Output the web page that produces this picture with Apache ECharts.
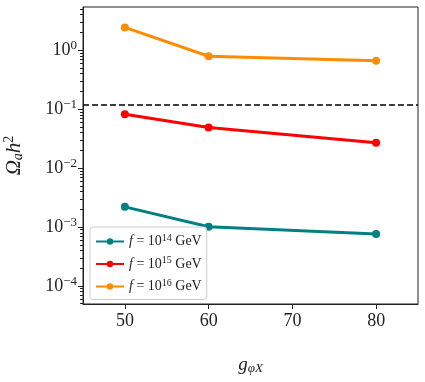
<!DOCTYPE html>
<html>
<head>
<meta charset="utf-8">
<script src="https://cdn.jsdelivr.net/npm/echarts@6/dist/echarts.min.js"></script>
<style>
  html, body { margin: 0; padding: 0; background: #fff; }
  #chart { width: 425px; height: 382px; }
</style>
</head>
<body>
<div id="chart"></div>
<script>
// data
var gValues = [50, 60, 80];
var omega14 = [0.0022, 0.00101, 0.00076];
var omega15 = [0.082, 0.049, 0.027];
var omega16 = [2.43, 0.79, 0.66];
var omegaDM = 0.12;
var seriesNames = ['14', '15', '16'];
var xTicks = [50, 60, 70, 80];
var yTicks = [1e-4, 1e-3, 1e-2, 1e-1, 1];
var yMinorTicks = [];
[1e-5, 1e-4, 1e-3, 1e-2, 1e-1, 1].forEach(function (d) {
  for (var k = 2; k <= 9; k++) yMinorTicks.push(d * k);
});

var font = 'Liberation Serif';
var chart = echarts.init(document.getElementById('chart'));

function pairs(ys) {
  return gValues.map(function (x, i) { return [x, ys[i]]; });
}

function lineSeries(name, ys, color) {
  return {
    name: name,
    type: 'line',
    data: pairs(ys),
    symbol: 'circle',
    symbolSize: 8,
    lineStyle: { width: 3, color: color },
    itemStyle: { color: color },
    z: 3
  };
}

var s14 = lineSeries(seriesNames[0], omega14, '#008080');
var s15 = lineSeries(seriesNames[1], omega15, '#ff0000');
var s16 = lineSeries(seriesNames[2], omega16, '#ff8c00');
s16.markLine = {
  silent: true,
  symbol: 'none',
  label: { show: false },
  lineStyle: { color: '#000', type: [6, 3], width: 1.5 },
  data: [{ yAxis: omegaDM }]
};

var option = {
  animation: false,
  textStyle: { fontFamily: font },
  grid: {
    left: 83, right: 7, top: 7, bottom: 78,
    outerBoundsMode: 'none', containLabel: false,
    show: true, borderColor: '#222', borderWidth: 1
  },
  legend: {
    left: 90, top: 227,
    orient: 'vertical',
    itemWidth: 28, itemHeight: 8, itemGap: 7,
    padding: [6, 5, 6, 5],
    borderColor: '#ccc', borderWidth: 1, borderRadius: 3,
    backgroundColor: 'rgba(255,255,255,0.85)',
    formatter: function (n) { return '{i|f} = 10{s|' + n + '} GeV'; },
    textStyle: {
      fontFamily: font, fontSize: 14, color: '#222',
      rich: {
        i: { fontFamily: font, fontStyle: 'italic', fontSize: 14 },
        s: { fontFamily: font, fontSize: 10, padding: [0, 0, 7, 0] }
      }
    },
    data: seriesNames
  },
  xAxis: {
    type: 'value',
    min: 45, max: 85,
    name: '{g|g}{s|φX}',
    nameLocation: 'middle',
    nameGap: 50,
    nameTextStyle: {
      rich: {
        g: { fontFamily: font, fontStyle: 'italic', fontSize: 19, color: '#222' },
        s: { fontFamily: font, fontStyle: 'italic', fontSize: 13, color: '#222', padding: [8, 0, 0, 0] }
      }
    },
    axisLine: { lineStyle: { color: '#222' } },
    axisTick: { customValues: xTicks, length: 5, lineStyle: { color: '#222' } },
    axisLabel: { customValues: xTicks, fontFamily: font, fontSize: 18, color: '#222', margin: 8 },
    splitLine: { show: false }
  },
  yAxis: [{
    type: 'log',
    logBase: 10,
    min: 4.95e-5, max: 5.4,
    name: '{o|Ω}{a|a}{h|h}{s|2}',
    nameLocation: 'middle',
    nameGap: 57,
    nameRotate: 90,
    nameTextStyle: {
      rich: {
        o: { fontFamily: font, fontStyle: 'italic', fontSize: 21, color: '#222' },
        a: { fontFamily: font, fontStyle: 'italic', fontSize: 14, color: '#222', padding: [8, 0, 0, 0] },
        h: { fontFamily: font, fontStyle: 'italic', fontSize: 21, color: '#222' },
        s: { fontFamily: font, fontSize: 14, color: '#222', padding: [0, 0, 10, 0] }
      }
    },
    axisLine: { lineStyle: { color: '#222' } },
    axisTick: { customValues: yTicks, length: 5, lineStyle: { color: '#222' } },
    axisLabel: {
      customValues: yTicks,
      color: '#222',
      margin: 6,
      formatter: function (v) {
        var e = Math.round(Math.log10(v));
        return '{b|10}{s|' + (e < 0 ? '\u2212' + (-e) : e) + '}';
      },
      rich: {
        b: { fontFamily: font, fontSize: 18, color: '#222' },
        s: { fontFamily: font, fontSize: 13, color: '#222', padding: [0, 0, 9, 0] }
      }
    },
    splitLine: { show: false }
  }, {
    type: 'log',
    logBase: 10,
    min: 4.95e-5, max: 5.4,
    position: 'left',
    axisLine: { show: false },
    axisTick: { customValues: yMinorTicks, length: 3, lineStyle: { color: '#222' } },
    axisLabel: { show: false },
    splitLine: { show: false }
  }],
  series: [s14, s15, s16]
};

chart.setOption(option);
</script>
</body>
</html>
